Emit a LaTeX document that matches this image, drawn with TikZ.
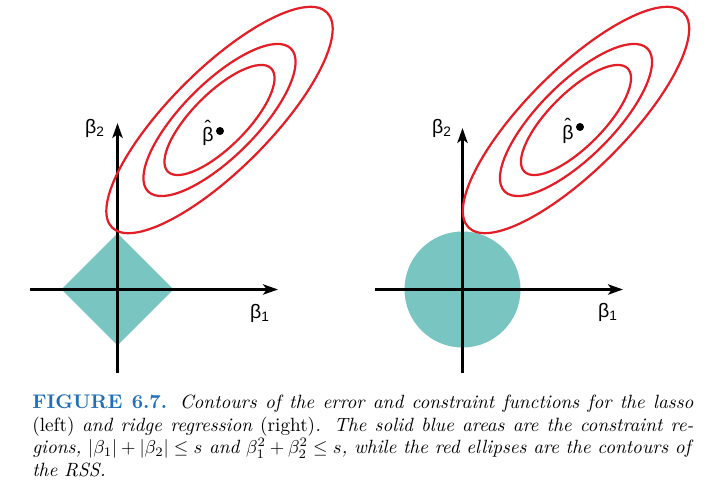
\documentclass[tikz,border=0pt]{standalone}
\usepackage{fontspec}
\usetikzlibrary{arrows.meta}
\newfontfamily\axisfont{Liberation Sans}
\definecolor{rssred}{RGB}{228,30,38}
\definecolor{regionteal}{RGB}{120,197,194}
\definecolor{figblue}{RGB}{30,112,184}
\newcommand{\betahat}{\ooalign{β\cr\hidewidth\raisebox{.33em}{\char"02C6}\hidewidth\cr}}
\tikzset{
  axis/.style={line width=1.6pt,-{Stealth[length=8pt,width=5.5pt,inset=2pt]}},
  contour/.style={rssred,line width=1.2pt},
  region/.style={fill=regionteal},
  axlabel/.style={inner sep=0pt,font=\axisfont\fontsize{10.5}{12}\selectfont},
  figcaption/.style={anchor=base west,inner sep=0pt,text width=355pt,align=justify,
    font=\fontsize{10.3}{12}\selectfont}
}
\begin{document}
\begin{tikzpicture}[x=0.537pt, y=0.537pt]
\useasboundingbox (0,0) rectangle (720,492);

% lasso (left)
\coordinate (O1) at (117.5,202.5);
\coordinate (E1) at (219.5,372);
\coordinate (x1s) at (30,202.5);
\coordinate (x1e) at (278,202.5);
\coordinate (y1s) at (117.5,119);
\coordinate (y1e) at (117.5,369);

\fill[region] (61.5,202.5) -- (117.5,258.5) -- (173.5,202.5) -- (117.5,146.5) -- cycle;
\draw[axis] (x1s) -- (x1e);
\draw[axis] (y1s) -- (y1e);
\foreach \a/\b in {152/50,101/37,73/27}
  \draw[contour,rotate around={45:(E1)}] (E1) ellipse [x radius=\a, y radius=\b];
\fill (220,361) circle (4);
\node[axlabel] (hat1) at (208,358) {\betahat};
\node[axlabel] (b21) at (95,364) {β\textsubscript{2}};
\node[axlabel] (b11) at (260,179) {β\textsubscript{1}};

% ridge (right)
\coordinate (O2) at (462.5,202.5);
\coordinate (E2) at (576,372);
\coordinate (x2s) at (375,202.5);
\coordinate (x2e) at (623,202.5);
\coordinate (y2s) at (462.5,119);
\coordinate (y2e) at (462.5,364);

\fill[region] (O2) circle (58);
\draw[axis] (x2s) -- (x2e);
\draw[axis] (y2s) -- (y2e);
\foreach \a/\b in {152/50,101/37,73/27}
  \draw[contour,rotate around={45:(E2)}] (E2) ellipse [x radius=\a, y radius=\b];
\fill (580,365) circle (4);
\node[axlabel] (hat2) at (568,360) {\betahat};
\node[axlabel] (b22) at (442,364) {β\textsubscript{2}};
\node[axlabel] (b12) at (608,180) {β\textsubscript{1}};

\node[figcaption] (cap) at (32,83) {\textcolor{figblue}{\fontsize{10.6}{12}\selectfont\textbf{FIGURE 6.7.}}
  \textit{Contours of the error and constraint functions for the lasso}\linebreak
  (left) \textit{and ridge regression} (right)\textit{. The solid blue areas are the constraint re-}\linebreak
  \textit{gions, $|\beta_1|+|\beta_2|\le s$ and $\beta_1^2+\beta_2^2\le s$, while the red ellipses are the contours of}\linebreak
  \textit{the RSS.}};
\end{tikzpicture}
\end{document}
